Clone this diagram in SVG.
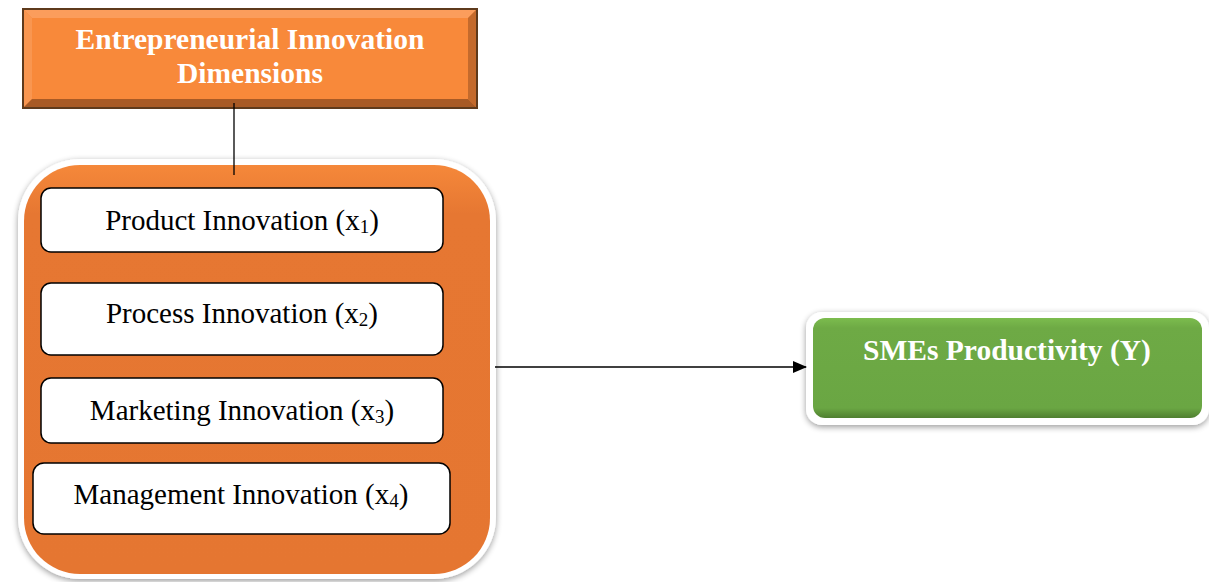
<svg xmlns="http://www.w3.org/2000/svg" width="1209" height="582" viewBox="0 0 1209 582">
<defs>
<style>
.item{fill:#fff;stroke:#000;stroke-width:1.5}
.itxt{font-family:"Liberation Serif","Times New Roman",serif;font-size:29px;fill:#000;text-anchor:middle}
.btxt{font-family:"Liberation Serif","Times New Roman",serif;font-size:29.5px;font-weight:bold;fill:#fff;text-anchor:middle}
.sub{font-size:19px}
</style>
<linearGradient id="og" x1="0" y1="0" x2="0" y2="1">
<stop offset="0" stop-color="#F5883A"/>
<stop offset="0.12" stop-color="#E67732"/>
<stop offset="1" stop-color="#E57631"/>
</linearGradient>
<linearGradient id="gg" x1="0" y1="0" x2="0" y2="1">
<stop offset="0" stop-color="#7CBC4E"/>
<stop offset="0.1" stop-color="#6EAA45"/>
<stop offset="0.9" stop-color="#6AA643"/>
<stop offset="1" stop-color="#4F7F30"/>
</linearGradient>
<filter id="sh" x="-10%" y="-10%" width="120%" height="120%">
<feGaussianBlur in="SourceAlpha" stdDeviation="3"/>
<feOffset dx="0" dy="2"/>
<feComponentTransfer><feFuncA type="linear" slope="0.4"/></feComponentTransfer>
<feMerge><feMergeNode/><feMergeNode in="SourceGraphic"/></feMerge>
</filter>
<marker id="arr" markerWidth="14" markerHeight="12" refX="13" refY="6" orient="auto" markerUnits="userSpaceOnUse">
<path d="M0,0 L14,6 L0,12 z" fill="#000"/>
</marker>
</defs>
<rect width="1209" height="582" fill="#fff"/>

<g id="dimensions">
<rect x="23" y="9" width="454" height="99" fill="#F8893A" stroke="#5E3A1C" stroke-width="2"/>
<polygon points="24,10 476,10 468,18 32,18" fill="#FBA060" opacity="0.9"/>
<polygon points="24,10 32,18 32,99 24,107" fill="#F99650"/>
<polygon points="476,10 476,107 468,99 468,18" fill="#C46A2C"/>
<polygon points="24,107 476,107 468,99 32,99" fill="#A85A25"/>
<text class="btxt" x="250" y="49">Entrepreneurial Innovation</text>
<text class="btxt" x="250" y="83">Dimensions</text>
</g>

<g id="container">
<rect x="18" y="159" width="478" height="420" rx="62" fill="#fff" filter="url(#sh)"/>
<rect x="24" y="165" width="466" height="409" rx="56" fill="url(#og)"/>
</g>

<g id="product">
<rect class="item" x="41" y="188" width="402" height="64" rx="10"/>
<text class="itxt" x="242" y="230">Product Innovation (x<tspan class="sub" dy="3">1</tspan><tspan dy="-3">)</tspan></text>
</g>

<g id="process">
<rect class="item" x="41" y="283" width="402" height="72" rx="10"/>
<text class="itxt" x="242" y="323">Process Innovation (x<tspan class="sub" dy="3">2</tspan><tspan dy="-3">)</tspan></text>
</g>

<g id="marketing">
<rect class="item" x="41" y="378" width="402" height="65" rx="10"/>
<text class="itxt" x="242" y="420">Marketing Innovation (x<tspan class="sub" dy="3">3</tspan><tspan dy="-3">)</tspan></text>
</g>

<g id="management">
<rect class="item" x="33" y="463" width="417" height="71" rx="11"/>
<text class="itxt" x="241" y="504">Management Innovation (x<tspan class="sub" dy="3">4</tspan><tspan dy="-3">)</tspan></text>
</g>

<g id="productivity">
<rect x="806" y="312" width="403" height="113" rx="16" fill="#fff" filter="url(#sh)"/>
<rect x="813" y="318" width="389" height="100" rx="12" fill="url(#gg)"/>
<text class="btxt" x="1007" y="360">SMEs Productivity (Y)</text>
</g>

<g id="connectors">
<line x1="234" y1="103" x2="234" y2="175" stroke="#000" stroke-width="1.3"/>
<line x1="495" y1="367" x2="806" y2="367" stroke="#000" stroke-width="1.5" marker-end="url(#arr)"/>
</g>
</svg>
